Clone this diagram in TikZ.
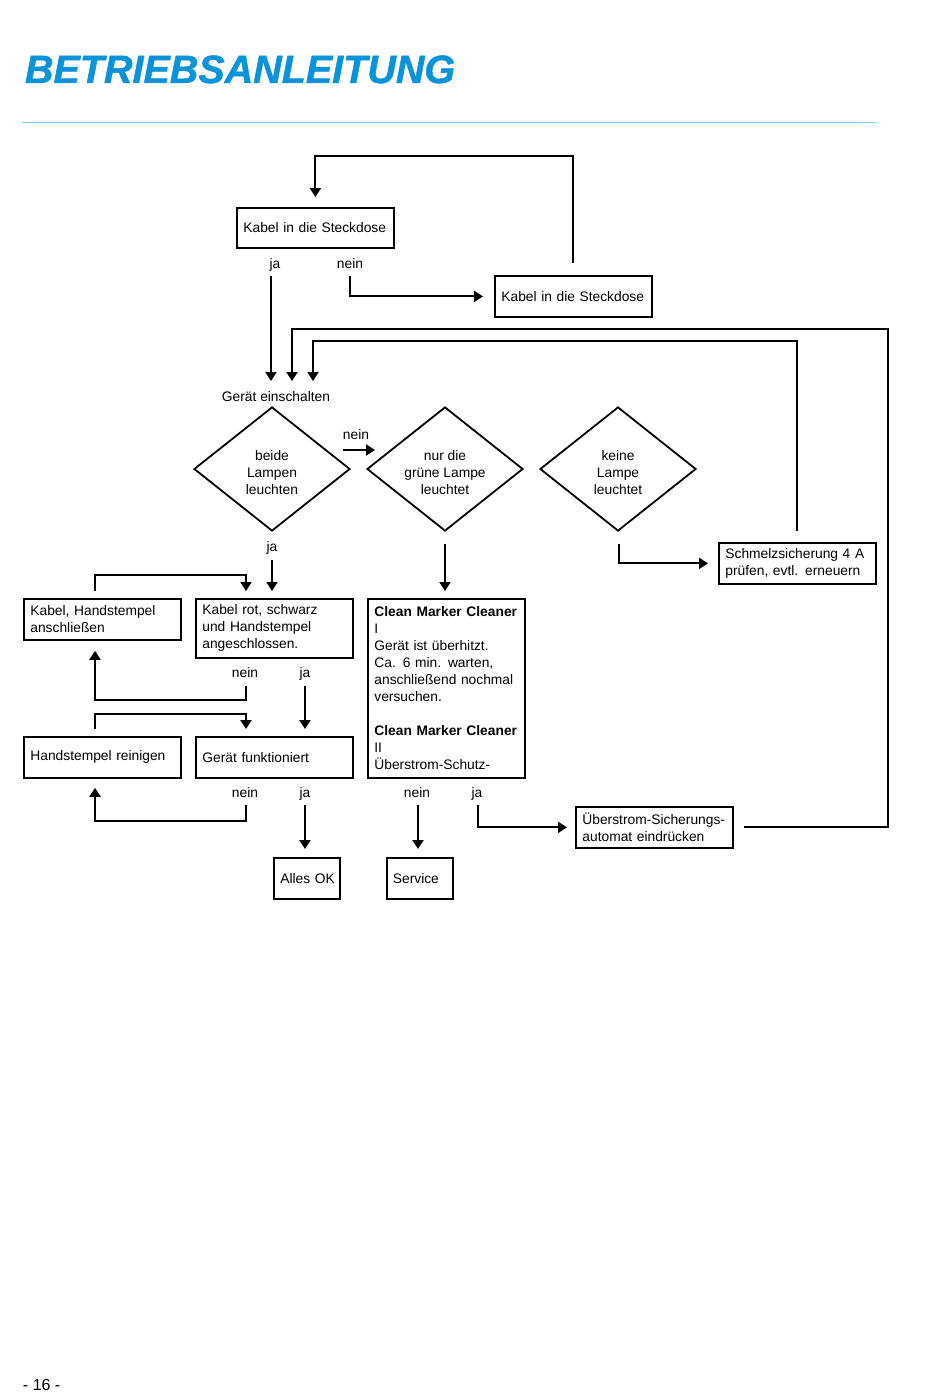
\documentclass[tikz,border=0pt]{standalone}
\usepackage{fontspec}
\setmainfont{Liberation Sans}
\newfontface\titlefont[FakeBold=1.2]{Liberation Sans Bold Italic}
\usetikzlibrary{arrows.meta,shapes.geometric,calc}
\definecolor{titleblue}{HTML}{0A93D8}
\definecolor{ruleblue}{HTML}{7CCFEA}
\newcommand{\fs}{\fontsize{13.8}{17}\selectfont}
\newcommand{\ml}[1]{\mbox{#1}}
\newcommand{\dtext}[1]{\raisebox{-5pt}[\height][\depth]{\begin{tabular}{@{}c@{}}#1\end{tabular}}}
\begin{document}
\begin{tikzpicture}[x=1pt,y=-1pt,line width=2pt,
  box/.style={draw,line width=1.8pt,anchor=north west,inner xsep=6.5pt,inner ysep=0pt,
    align=left,font=\fs,minimum width=157pt,text width=144pt},
  dia/.style={draw,line width=1.8pt,shape=diamond,aspect=1.26,inner sep=0pt,minimum width=156pt,
    minimum height=124pt,font=\fs},
  lbl/.style={inner sep=0pt,font=\fs,text height=10pt,text depth=0pt},
  arr/.style={-{Triangle[width=11pt,length=9pt]}}]
\useasboundingbox[fill=white] (0,0) rectangle (950,1394);
% title and rule
\node[anchor=base west,inner sep=0pt,text=titleblue,font=\fontsize{39.5}{39.5}\titlefont] (title) at (24,83) {BETRIEBSANLEITUNG};
\draw[ruleblue,line width=1pt] (22,123) -- (876,123);
\node[anchor=base west,inner sep=0pt,font=\fontsize{16}{16}\selectfont] (page) at (22,1390) {- 16 -};
% boxes
\node[box,minimum height=40pt] (k1) at (236,207) {\ml{Kabel in die Steckdose}};
\node[box,minimum height=41pt] (k2) at (494,275) {\ml{Kabel in die Steckdose}};
\node[box,minimum height=41pt] (schmelz) at (718,542) {\ml{Schmelzsicherung 4 A}\\\ml{prüfen, evtl. erneuern}};
\node[box,minimum height=41pt] (khs) at (23,598) {\ml{Kabel, Handstempel}\\\ml{anschließen}};
\node[box,minimum height=59pt] (krot) at (195,598) {\ml{Kabel rot, schwarz}\\\ml{und Handstempel}\\\ml{angeschlossen.}};
\node[box,minimum height=179pt] (clean) at (367,598) {\ml{\textbf{Clean Marker Cleaner}}\\I\\\ml{Gerät ist überhitzt.}\\\ml{Ca. 6 min. warten,}\\\ml{anschließend nochmal}\\\ml{versuchen.}\\[17pt]\ml{\textbf{Clean Marker Cleaner}}\\II\\\ml{Überstrom-Schutz-}};
\node[box,minimum height=41pt] (hand) at (23,736) {\ml{Handstempel reinigen}};
\node[box,minimum height=41pt] (funk) at (195,736) {\ml{Gerät funktioniert}};
\node[box,minimum height=41pt,minimum width=66pt,text width=53pt] (ok) at (273,857) {\ml{Alles OK}};
\node[box,minimum height=41pt,minimum width=66pt,inner xsep=6pt,text width=54pt] (service) at (386,857) {\ml{Service}};
\node[box,minimum height=41pt] (ueber) at (575,806) {\ml{Überstrom-Sicherungs-}\\\ml{automat eindrücken}};
% diamonds
\node[dia] (d1) at (272,469) {\dtext{beide\\Lampen\\leuchten}};
\node[dia] (d2) at (445,469) {\dtext{nur die\\grüne Lampe\\leuchtet}};
\node[dia] (d3) at (618,469) {\dtext{keine\\Lampe\\leuchtet}};
% labels
\node[lbl] (geraet) at (276,396) {Gerät einschalten};
\node[lbl] (ja1) at (275,263) {ja};
\node[lbl] (nein1) at (350,263) {nein};
\node[lbl] (nein2) at (356,434) {nein};
\node[lbl] (ja2) at (272,546) {ja};
\node[lbl] (nein3) at (245,672) {nein};
\node[lbl] (ja3) at (305,672) {ja};
\node[lbl] (nein4) at (245,792) {nein};
\node[lbl] (ja4) at (305,792) {ja};
\node[lbl] (nein5) at (417,792) {nein};
\node[lbl] (ja5) at (477,792) {ja};
% helper coordinates
\coordinate (c1) at (888,329);
\coordinate (c2) at (313,341);
% connectors
\draw[arr] ($(k2.north)+(0,-12)$) |- ($(k1.north)+(0,-51)$) -- ($(k1.north)+(0,-10)$);
\draw[arr] ($(ja1)+(-4,13)$) coordinate (s1) -- ($(s1 |- geraet.north)+(0,-9)$);
\draw[arr] ($(nein1)+(0,13)$) |- ($(k2.west)+(-11,0)$);
\draw[arr] ($(ueber.east)+(10,0)$) -| (c1) -| ($(geraet.north)+(16,-9)$);
\draw[arr] ($(schmelz.north)+(0,-11)$) |- (c2) -- ($(c2 |- geraet.north)+(0,-9)$);
\draw[arr] ($(nein2)+(-13,16)$) -- ($(nein2)+(19,16)$);
\draw[arr] ($(ja2)+(0,14)$) coordinate (s2) -- ($(s2 |- krot.north)+(0,-7)$);
\draw[arr] ($(d2.south)+(0,12)$) coordinate (s3) -- ($(s3 |- clean.north)+(0,-7)$);
\draw[arr] ($(d3.south)+(1,12)$) |- ($(schmelz.west)+(-10,0)$);
\draw[arr] ($(khs.north west)+(72,-7)$) -- ++(0,-16) -| ($(krot.north west)+(51,-7)$);
\draw[arr] ($(nein3)+(1,14)$) -- ++(0,14) -| ($(khs.south west)+(72,10)$);
\draw[arr] ($(ja3)+(0,14)$) coordinate (s4) -- ($(s4 |- funk.north)+(0,-7)$);
\draw[arr] ($(hand.north west)+(72,-7)$) -- ++(0,-15) -| ($(funk.north west)+(51,-7)$);
\draw[arr] ($(nein4)+(1,13)$) -- ++(0,16) -| ($(hand.south west)+(72,9)$);
\draw[arr] ($(ja4)+(0,13)$) coordinate (s5) -- ($(s5 |- ok.north)+(0,-8)$);
\draw[arr] ($(nein5)+(1,13)$) coordinate (s6) -- ($(s6 |- service.north)+(0,-8)$);
\draw[arr] ($(ja5)+(1,13)$) |- ($(ueber.west)+(-8,0)$);
\end{tikzpicture}
\end{document}
